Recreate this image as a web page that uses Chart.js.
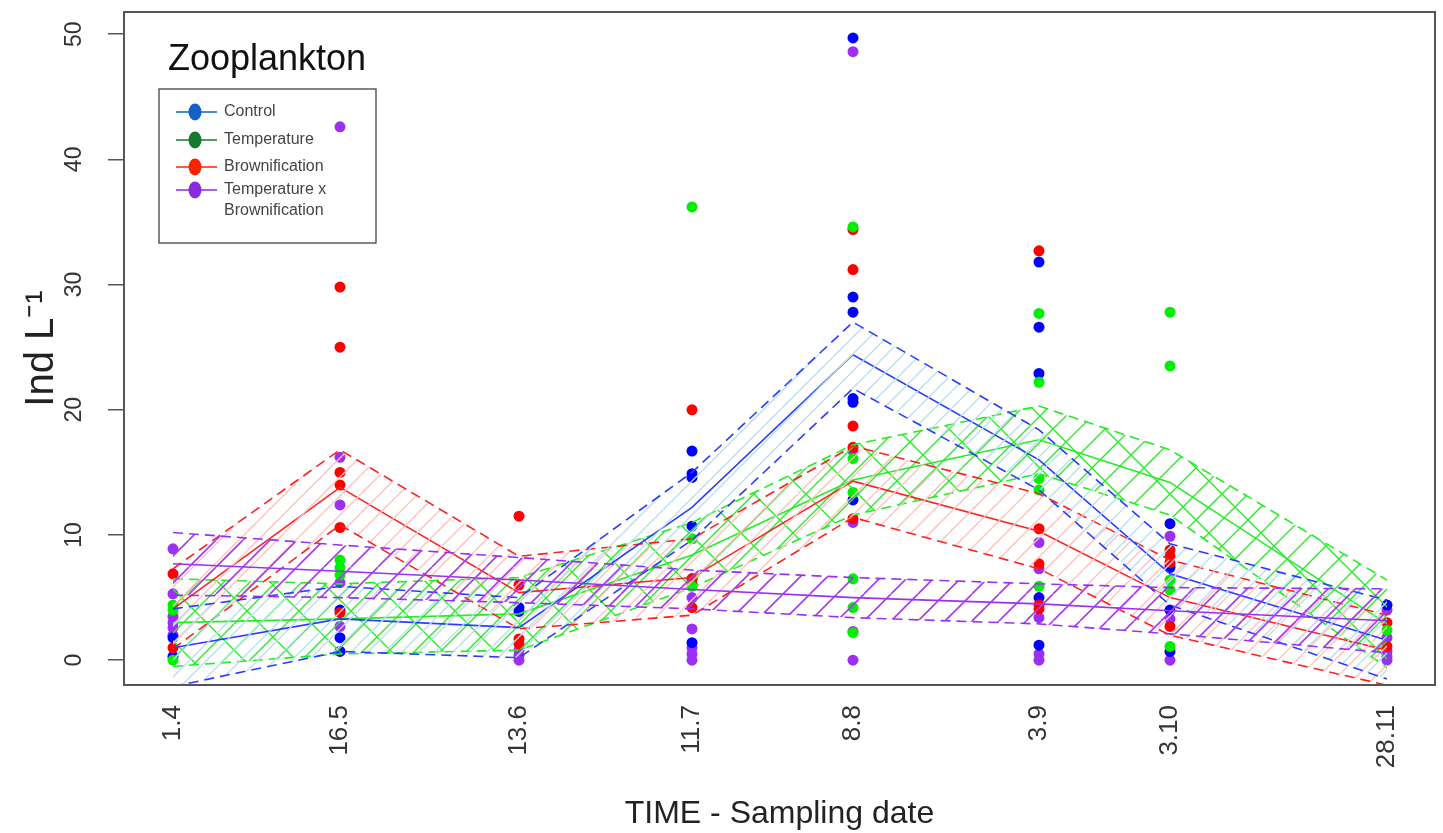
<!DOCTYPE html>
<html>
<head>
<meta charset="utf-8">
<title>Zooplankton</title>
<script src="https://cdn.jsdelivr.net/npm/chart.js@4.4.0/dist/chart.umd.min.js"></script>
<style>
  html, body { margin: 0; padding: 0; background: #fff; }
  #wrap { width: 1443px; height: 833px; }
</style>
</head>
<body>
<div id="wrap"><canvas id="zooChart" width="1443" height="833"></canvas></div>
<script>
// Sampling dates (x axis) and their position on the time axis
const sampleDates = ['1.4', '16.5', '13.6', '11.7', '8.8', '3.9', '3.10', '28.11'];
const samplePos = [0, 16.7, 34.6, 51.9, 68.0, 86.6, 99.7, 121.4];
const yTicks = [0, 10, 20, 30, 40, 50];

// Control
const controlObs = [
    [1.8, 0.3],
    [4.0, 1.8, 0.7],
    [4.2, 3.9],
    [16.7, 14.9, 14.6, 10.7, 6.5, 1.4],
    [49.7, 29.0, 27.8, 20.9, 20.6, 12.8],
    [31.8, 26.6, 22.9, 5.0, 1.2],
    [10.9, 7.4, 4.0, 0.7],
    [4.4]
];
const controlFit = [1.0, 3.3, 2.6, 12.2, 24.4, 16.0, 6.9, 1.6];
const controlUpper = [4.1, 5.9, 5.0, 15.0, 27.0, 18.4, 9.3, 4.8];
const controlLower = [-2.1, 0.7, 0.2, 9.6, 21.7, 13.6, 4.4, -1.5];

// Temperature
const tempObs = [
    [4.4, 4.0, 0.0],
    [8.0, 7.4, 6.8],
    [],
    [36.2, 9.7, 5.9],
    [34.6, 16.1, 13.4, 6.5, 4.2, 2.2],
    [27.7, 22.2, 14.5, 13.6, 5.9],
    [27.8, 23.5, 6.4, 5.6, 1.1],
    [2.4]
];
const tempFit = [3.0, 3.3, 3.7, 8.4, 14.4, 17.6, 14.2, 2.9];
const tempUpper = [6.5, 6.1, 6.6, 11.0, 17.2, 20.3, 16.8, 6.4];
const tempLower = [-0.5, 0.5, 0.8, 5.8, 11.6, 14.9, 11.6, -0.6];

// Brownification
const brownObs = [
    [6.9, 1.0],
    [29.8, 25.0, 15.0, 14.0, 10.6, 3.8],
    [11.5, 6.0, 1.7, 1.3],
    [20.0, 6.5, 6.1, 4.2],
    [34.4, 31.2, 18.7, 17.0, 11.3],
    [32.7, 10.5, 7.7, 4.4, 4.1],
    [8.8, 8.3, 7.8, 2.7],
    [3.0, 1.1]
];
const brownFit = [4.1, 13.8, 5.4, 6.6, 14.3, 10.3, 5.0, 0.8];
const brownUpper = [7.3, 16.8, 8.3, 9.7, 17.1, 13.3, 8.0, 3.6];
const brownLower = [0.9, 10.8, 2.5, 3.6, 11.4, 7.3, 2.0, -2.0];

// Temperature x Brownification
const tbObs = [
    [8.9, 5.3, 3.5, 3.0, 2.6, 2.0],
    [42.6, 16.2, 12.4, 6.2, 2.7],
    [0.8, 0.4, 0.0],
    [5.0, 2.5, 1.0, 0.5, 0.0],
    [48.6, 16.7, 11.0, 2.3, 0.0],
    [9.4, 7.3, 3.4, 0.5, 0.0],
    [9.9, 7.6, 3.3, 0.0],
    [4.0, 1.8, 0.7, 0.3, 0.0]
];
const tbFit = [7.7, 7.1, 6.4, 5.65, 5.0, 4.5, 3.95, 3.15];
const tbUpper = [10.2, 9.2, 8.2, 7.2, 6.6, 6.1, 5.8, 5.7];
const tbLower = [5.2, 5.0, 4.6, 4.1, 3.4, 2.9, 2.1, 0.6];

const FONT = '"Liberation Sans", Arial, Helvetica, sans-serif';

// diagonal hatch pattern for the confidence bands
// (cross = also back-slash lines, at twice the spacing)
function makeHatch(color, size, width, cross) {
    const tile = document.createElement('canvas');
    const t = cross ? size * 2 : size;
    tile.width = t;
    tile.height = t;
    const g = tile.getContext('2d');
    g.strokeStyle = color;
    g.lineWidth = width;
    g.beginPath();
    for (let k = -2; k <= 2; k++) {
        g.moveTo(k * size, t);
        g.lineTo(k * size + t, 0);
    }
    if (cross) {
        for (let k = -1; k <= 1; k++) {
            g.moveTo(k * t, 0);
            g.lineTo(k * t + t, t);
        }
    }
    g.stroke();
    return g.createPattern(tile, 'repeat');
}

// top group first = drawn on top
const groups = [
    { name: 'TxB', obs: tbObs, fit: tbFit, upper: tbUpper, lower: tbLower,
      point: '#9b30f0', line: '#9b30f0', hatch: makeHatch('#a43cf2', 27, 1.6, false) },
    { name: 'Control', obs: controlObs, fit: controlFit, upper: controlUpper, lower: controlLower,
      point: '#0000ff', line: '#2b3cff', hatch: makeHatch('#b8dff0', 17, 1.4, false) },
    { name: 'Brownification', obs: brownObs, fit: brownFit, upper: brownUpper, lower: brownLower,
      point: '#ff0000', line: '#ff2020', hatch: makeHatch('#ffc0c0', 19, 1.4, false) },
    { name: 'Temperature', obs: tempObs, fit: tempFit, upper: tempUpper, lower: tempLower,
      point: '#00ee00', line: '#22ee22', hatch: makeHatch('#2aea2a', 26, 1.4, true) }
];

const toXY = arr => arr.map((v, i) => ({ x: samplePos[i], y: v }));

const datasets = [];
groups.forEach(grp => {
    datasets.push({
        label: grp.name + ' lower',
        data: toXY(grp.lower),
        showLine: true, borderColor: grp.line, borderWidth: 1.6, borderDash: [10, 6],
        pointRadius: 0, fill: false, clip: 0
    });
    datasets.push({
        label: grp.name + ' upper',
        data: toXY(grp.upper),
        showLine: true, borderColor: grp.line, borderWidth: 1.6, borderDash: [10, 6],
        pointRadius: 0, fill: '-1', backgroundColor: grp.hatch, clip: 0
    });
    datasets.push({
        label: grp.name + ' fit',
        data: toXY(grp.fit),
        showLine: true, borderColor: grp.line, borderWidth: 1.6,
        pointRadius: 0, fill: false, clip: 0
    });
});
// observations underneath the model lines
['Temperature', 'Brownification', 'Control', 'TxB'].forEach(n => {
    const grp = groups.find(g => g.name === n);
    const pts = [];
    grp.obs.forEach((vals, i) => vals.forEach(v => pts.push({ x: samplePos[i], y: v })));
    datasets.push({
        label: grp.name + ' obs',
        data: pts,
        showLine: false, pointRadius: 5.5, pointBorderWidth: 0,
        pointBackgroundColor: grp.point, pointBorderColor: grp.point
    });
});

const legendEntries = [
    { text: ['Control'], color: '#1560c4' },
    { text: ['Temperature'], color: '#167a2e' },
    { text: ['Brownification'], color: '#ff2200' },
    { text: ['Temperature x', 'Brownification'], color: '#8a2be2' }
];

// R-like frame, title and legend
const rFrame = {
    id: 'rFrame',
    beforeDatasetsDraw(chart) {
        const { ctx, chartArea: a } = chart;
        ctx.save();
        ctx.fillStyle = '#111';
        ctx.font = '36px ' + FONT;
        ctx.textBaseline = 'alphabetic';
        ctx.fillText('Zooplankton', a.left + 44, a.top + 58);

        const bx = a.left + 35, by = a.top + 77;
        ctx.fillStyle = '#fff';
        ctx.fillRect(bx, by, 217, 154);
        ctx.strokeStyle = '#333';
        ctx.lineWidth = 1.2;
        ctx.strokeRect(bx, by, 217, 154);

        const rows = [23, 51, 78, 101];
        ctx.font = '16px ' + FONT;
        ctx.textBaseline = 'middle';
        legendEntries.forEach((e, i) => {
            const cy = by + rows[i];
            ctx.strokeStyle = e.color;
            ctx.lineWidth = 1.4;
            ctx.beginPath();
            ctx.moveTo(bx + 17, cy);
            ctx.lineTo(bx + 58, cy);
            ctx.stroke();
            ctx.fillStyle = e.color;
            ctx.beginPath();
            ctx.ellipse(bx + 36, cy, 6.5, 8.5, 0, 0, Math.PI * 2);
            ctx.fill();
            ctx.fillStyle = '#444';
            e.text.forEach((t, j) => ctx.fillText(t, bx + 65, cy + j * 21));
        });
        ctx.restore();
    },
    afterDraw(chart) {
        const { ctx, chartArea: a } = chart;
        ctx.save();
        ctx.strokeStyle = '#555';
        ctx.lineWidth = 2;
        ctx.strokeRect(a.left, a.top, a.right - a.left, a.bottom - a.top);
        ctx.restore();
    }
};

new Chart(document.getElementById('zooChart'), {
    type: 'scatter',
    data: { datasets },
    plugins: [rFrame],
    options: {
        responsive: false,
        animation: false,
        layout: { padding: { top: 12, right: 8, left: 0, bottom: 0 } },
        plugins: {
            legend: { display: false },
            tooltip: { enabled: false }
        },
        scales: {
            x: {
                type: 'linear',
                min: -4.9,
                max: 126.2,
                afterFit: s => {
                    s.height = 148;
                    s.paddingLeft = 0;
                    s.paddingRight = 0;
                },
                afterBuildTicks: s => { s.ticks = samplePos.map(v => ({ value: v })); },
                border: { display: false },
                grid: { display: false, drawTicks: false },
                ticks: {
                    autoSkip: false,
                    minRotation: 90,
                    maxRotation: 90,
                    padding: 20,
                    color: '#333',
                    font: { family: FONT, size: 26 },
                    callback: v => sampleDates[samplePos.indexOf(v)]
                },
                title: {
                    display: true,
                    text: 'TIME - Sampling date',
                    color: '#222',
                    font: { family: FONT, size: 32 },
                    padding: { top: 0, bottom: 0 }
                }
            },
            y: {
                type: 'linear',
                min: -1.98,
                max: 51.77,
                afterFit: s => {
                    s.width = 124;
                    s.paddingTop = 0;
                    s.paddingBottom = 0;
                },
                afterBuildTicks: s => { s.ticks = yTicks.map(v => ({ value: v })); },
                border: { display: false },
                grid: {
                    drawOnChartArea: false,
                    drawTicks: true,
                    tickLength: 16,
                    color: '#555',
                    lineWidth: 1.5
                },
                ticks: {
                    minRotation: 90,
                    maxRotation: 90,
                    crossAlign: 'center',
                    padding: 21,
                    color: '#333',
                    font: { family: FONT, size: 23 }
                },
                title: {
                    display: true,
                    text: 'Ind L\u207B\u00B9',
                    color: '#222',
                    font: { family: FONT, size: 40 },
                    padding: { top: 18, bottom: 0 }
                }
            }
        }
    }
});
</script>
</body>
</html>
